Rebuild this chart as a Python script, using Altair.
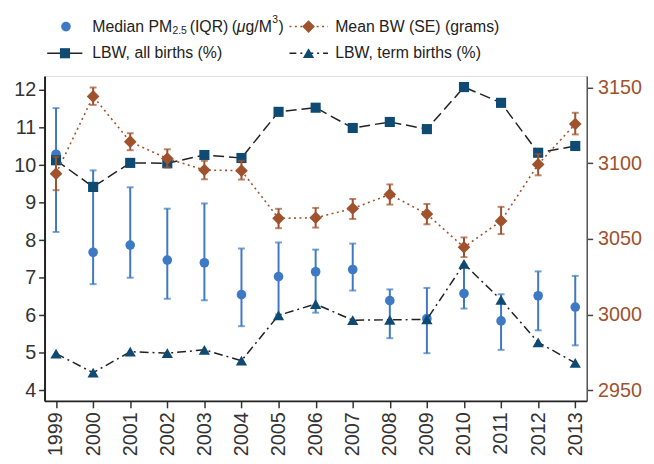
import altair as alt
import pandas as pd

years = list(range(1999, 2014))
lbw_all = [10.13, 9.42, 10.06, 10.05, 10.27, 10.19, 11.42, 11.53, 10.99, 11.15, 10.96, 12.08, 11.66, 10.33, 10.51]
lbw_term = [4.98, 4.47, 5.03, 4.99, 5.08, 4.79, 6.00, 6.30, 5.87, 5.88, 5.89, 7.37, 6.41, 5.28, 4.73]
pm_med = [10.29, 7.68, 7.87, 7.47, 7.40, 6.55, 7.03, 7.16, 7.22, 6.39, 5.91, 6.58, 5.85, 6.52, 6.22]
pm_q1 = [8.22, 6.83, 7.00, 6.44, 6.40, 5.71, 6.02, 6.07, 6.66, 5.39, 4.99, 6.18, 5.08, 5.60, 5.20]
pm_q3 = [11.52, 9.86, 9.41, 8.84, 8.98, 7.78, 7.94, 7.75, 7.91, 6.69, 6.73, 7.35, 6.56, 7.17, 7.05]
bw_mean = [3093.1, 3144.1, 3114.2, 3103.1, 3095.5, 3095.1, 3063.6, 3064.0, 3070.1, 3079.4, 3066.4, 3044.5, 3061.9, 3099.2, 3125.9]
bw_lo = [3082.2, 3138.5, 3108.6, 3097.2, 3089.4, 3089.2, 3057.1, 3057.5, 3063.2, 3072.7, 3059.7, 3038.0, 3053.2, 3092.0, 3119.0]
bw_hi = [3104.2, 3150.0, 3119.8, 3109.2, 3101.6, 3101.6, 3069.9, 3070.5, 3076.4, 3086.0, 3073.1, 3051.0, 3071.2, 3106.0, 3133.3]

left_ticks = [4, 5, 6, 7, 8, 9, 10, 11, 12]
right_ticks = [2950, 3000, 3050, 3100, 3150]

df = pd.DataFrame({
    "year": years, "lbw_all": lbw_all, "lbw_term": lbw_term,
    "pm_med": pm_med, "pm_q1": pm_q1, "pm_q3": pm_q3,
    "bw_mean": bw_mean, "bw_lo": bw_lo, "bw_hi": bw_hi,
})

PM = "#3d79c4"
NAVY = "#0f4a72"
SIENNA = "#a0522d"
INK = "#222222"
FONT = "Liberation Sans"

xenc = alt.X("year:O", title=None,
             scale=alt.Scale(type="point", padding=0.31),
             axis=alt.Axis(labelAngle=270, labelFontSize=20, labelColor="#333333",
                           labelPadding=4, tickSize=7, tickWidth=1.5, tickColor="#333333",
                           domainColor=INK, domainWidth=2, grid=False))

lscale = alt.Scale(domain=[3.72, 12.376], nice=False, zero=False)
laxis = alt.Axis(values=left_ticks, labelFontSize=20, labelColor="#333333", labelPadding=3,
                 tickSize=6, tickWidth=1.5, tickColor="#333333", domainColor=INK,
                 domainWidth=2, grid=False, orient="left")
rscale = alt.Scale(domain=[2943.1, 3157.6], nice=False, zero=False)
raxis = alt.Axis(values=right_ticks, format="d", labelFontSize=20, labelColor=SIENNA, labelPadding=5,
                 tickSize=6, tickWidth=1.5, tickColor="#444444", domainColor="#555555",
                 domainWidth=1.5, grid=False, orient="right")


def ly(field):
    return alt.Y(f"{field}:Q", scale=lscale, axis=laxis, title=None)


def ry(field):
    return alt.Y(f"{field}:Q", scale=rscale, axis=raxis, title=None)


base = alt.Chart(df).encode(x=xenc)

SQ, TRI, DIA, CIR = 105, 130, 165, 95

pm_rule = base.mark_rule(color=PM, strokeWidth=2).encode(y=ly("pm_q1"), y2="pm_q3:Q")
pm_cap1 = base.mark_tick(color=PM, thickness=2, size=7).encode(y=ly("pm_q1"))
pm_cap2 = base.mark_tick(color=PM, thickness=2, size=7).encode(y=ly("pm_q3"))
pm_pt = base.mark_point(shape="circle", filled=True, size=CIR, color=PM, opacity=1).encode(y=ly("pm_med"))

all_line = base.mark_line(color=INK, strokeWidth=1.5, strokeDash=[11, 5]).encode(y=ly("lbw_all"))
term_line = base.mark_line(color=INK, strokeWidth=1.5, strokeDash=[9, 4, 2, 4]).encode(y=ly("lbw_term"))
sq = base.mark_point(shape="square", filled=True, size=SQ, color=NAVY, opacity=1).encode(y=ly("lbw_all"))
tri = base.mark_point(shape="triangle-up", filled=True, size=TRI, color=NAVY, opacity=1).encode(y=ly("lbw_term"))

bw_line = base.mark_line(color=SIENNA, strokeWidth=1.6, strokeDash=[2, 3.5]).encode(y=ry("bw_mean"))
bw_rule = base.mark_rule(color=SIENNA, strokeWidth=2).encode(y=ry("bw_lo"), y2="bw_hi:Q")
bw_cap1 = base.mark_tick(color=SIENNA, thickness=2, size=7).encode(y=ry("bw_lo"))
bw_cap2 = base.mark_tick(color=SIENNA, thickness=2, size=7).encode(y=ry("bw_hi"))
bw_pt = base.mark_point(shape="diamond", filled=True, size=DIA, color=SIENNA, opacity=1).encode(y=ry("bw_mean"))

# legend (layout only)
one = alt.Data(values=[{"k": 0}])
R1, R2 = -50, -23
FS = 16


def txt(s, x, y, size=FS, style="normal", baseline="middle"):
    return alt.Chart(one).mark_text(align="left", baseline=baseline, fontSize=size, font=FONT,
                                    fontStyle=style, color=INK).encode(
        x=alt.value(x), y=alt.value(y), text=alt.value(s))


leg = [
    alt.Chart(one).mark_point(shape="circle", filled=True, size=CIR, color=PM, opacity=1).encode(
        x=alt.value(21.7), y=alt.value(R1)),
    txt("Median PM", 48.3, R1),
    txt("2.5", 129.5, -42.5, size=10.5, baseline="alphabetic"),
    txt("(IQR)", 147, R1),
    txt("(", 189.5, R1),
    txt("\u03bc", 194.5, R1, style="italic"),
    txt("g/M", 203.5, R1),
    txt("3", 230.5, -57, size=10.5),
    txt(")", 237, R1),
    alt.Chart(one).mark_rule(color=SIENNA, strokeWidth=1.6, strokeDash=[2, 3.5]).encode(
        x=alt.value(248), x2=alt.value(287), y=alt.value(R1)),
    alt.Chart(one).mark_point(shape="diamond", filled=True, size=DIA, color=SIENNA, opacity=1).encode(
        x=alt.value(267.3), y=alt.value(R1)),
    txt("Mean BW (SE) (grams)", 294.3, R1),
    alt.Chart(one).mark_rule(color=INK, strokeWidth=1.5).encode(
        x=alt.value(2.7), x2=alt.value(38.3), y=alt.value(R2)),
    alt.Chart(one).mark_point(shape="square", filled=True, size=SQ, color=NAVY, opacity=1).encode(
        x=alt.value(20.7), y=alt.value(R2)),
    txt("LBW, all births (%)", 48.3, R2),
    alt.Chart(one).mark_rule(color=INK, strokeWidth=1.5, strokeDash=[7, 4, 2, 4]).encode(
        x=alt.value(248), x2=alt.value(287), y=alt.value(R2)),
    alt.Chart(one).mark_point(shape="triangle-up", filled=True, size=TRI, color=NAVY, opacity=1).encode(
        x=alt.value(267.3), y=alt.value(R2)),
    txt("LBW, term births (%)", 294.3, R2),
]

left = alt.layer(pm_rule, pm_cap1, pm_cap2, pm_pt, all_line, term_line, sq, tri, *leg)
right = alt.layer(bw_line, bw_rule, bw_cap1, bw_cap2, bw_pt)

chart = alt.layer(left, right).resolve_scale(y="independent").properties(
    width=549, height=329,
    autosize=alt.AutoSizeParams(type="none"),
    padding={"left": 37, "top": 66, "right": 60, "bottom": 53},
    background="white",
).configure_view(stroke="#555555", strokeWidth=1.5).configure(font=FONT)

chart.save("out.html", embed_options={"renderer": "svg", "actions": False})
